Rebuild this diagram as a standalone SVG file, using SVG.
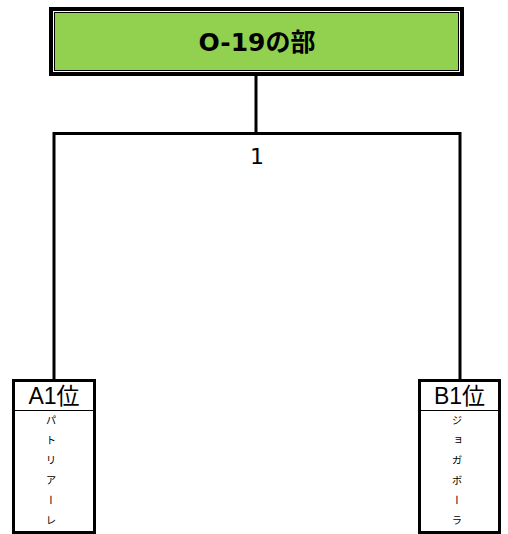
<svg xmlns="http://www.w3.org/2000/svg" width="508" height="534" viewBox="0 0 508 534">
<style>
.conn{fill:none;stroke:#000;stroke-width:3;stroke-linejoin:miter}
.box{fill:#fff;stroke:#000;stroke-width:3}
.sep{stroke:#000;stroke-width:1}
.hdr{font-family:"Liberation Sans","Noto Sans CJK JP",sans-serif;font-size:23px;text-anchor:middle;fill:#000}
.name{font-family:"Noto Sans CJK JP",sans-serif;font-size:10.5px;writing-mode:vertical-rl;letter-spacing:9.5px;fill:#000}
.title{font-family:"DejaVu Sans","Noto Sans CJK JP",sans-serif;font-size:25px;font-weight:bold;text-anchor:middle;fill:#000}
.num{font-family:"DejaVu Sans",sans-serif;font-size:22px;text-anchor:middle;fill:#000}
</style>
<rect width="508" height="534" fill="#fff"/>
<g id="connectors">
<path class="conn" d="M256 76 V133.5"/>
<path class="conn" d="M54 380 V133.5 H460 V380"/>
<text class="num" x="257" y="164">1</text>
</g>
<g id="title">
<rect x="49" y="7" width="415" height="69" fill="#000"/>
<rect x="53" y="11" width="407" height="61" fill="#fff"/>
<rect x="54.5" y="12.5" width="404" height="58" fill="#92D050" stroke="#000" stroke-width="1"/>
<text class="title" x="257" y="51">O-19の部</text>
</g>
<g id="a1">
<rect class="box" x="13.5" y="380.5" width="81" height="152"/>
<line class="sep" x1="13.5" y1="410.5" x2="94.5" y2="410.5"/>
<text class="hdr" x="54" y="404">A1位</text>
<text class="name" x="51" y="415">パトリアーレ</text>
</g>
<g id="b1">
<rect class="box" x="419.5" y="380.5" width="80" height="152"/>
<line class="sep" x1="419.5" y1="410.5" x2="499.5" y2="410.5"/>
<text class="hdr" x="459.5" y="404">B1位</text>
<text class="name" x="457" y="415">ジョガボーラ</text>
</g>
</svg>
